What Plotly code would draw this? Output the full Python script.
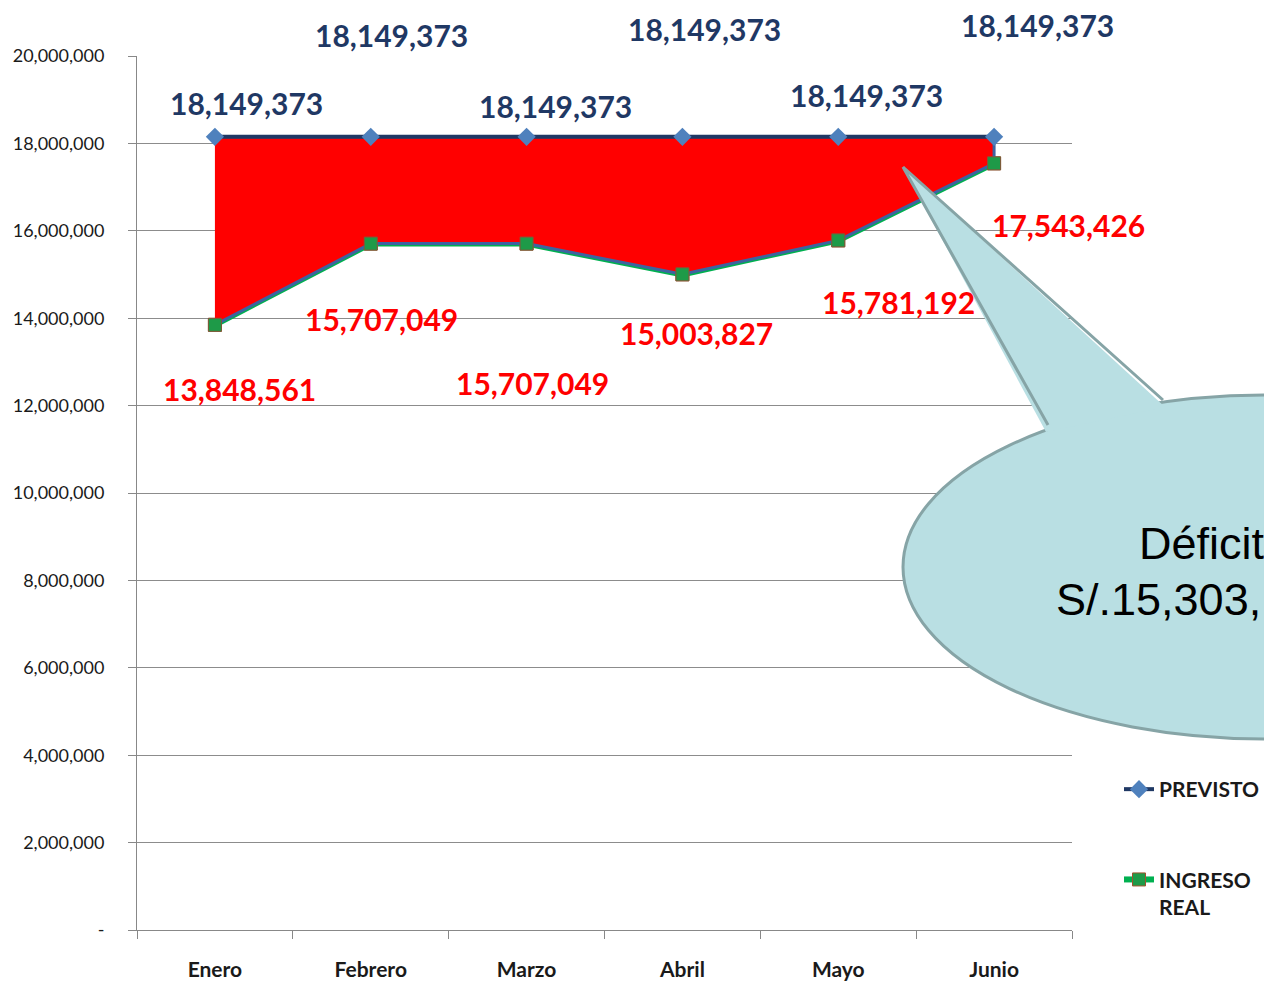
import plotly.graph_objects as go

# ---- data ----
months = ["Enero", "Febrero", "Marzo", "Abril", "Mayo", "Junio"]
previsto = [18149373, 18149373, 18149373, 18149373, 18149373, 18149373]
ingreso_real = [13848561, 15707049, 15707049, 15003827, 15781192, 17543426]
y_tick_vals = [0, 2000000, 4000000, 6000000, 8000000, 10000000, 12000000,
               14000000, 16000000, 18000000, 20000000]
y_tick_text = ["-", "2,000,000", "4,000,000", "6,000,000", "8,000,000",
               "10,000,000", "12,000,000", "14,000,000", "16,000,000",
               "18,000,000", "20,000,000"]
# label offsets in pixels (dx, dy-up) for each data label
prev_label_shift = [(32, 34), (21, 102), (29, 31), (22, 108), (28, 42), (43, 112)]
real_label_shift = [(25, -64), (11, -75), (6, -139), (14, -59), (60, -62), (74, -62)]

W, H = 1264, 983
L, R, T, B = 137, 192, 56, 53
PW, PH = W - L - R, H - T - B


def px(x):
    return (x - L) / PW


def py(y):
    return (H - B - y) / PH


FONT = "Lato"
NAVY = "#1F3864"
RED = "#FF0000"

fig = go.Figure()

# green line (underneath the red area)
fig.add_trace(go.Scatter(
    x=months, y=ingreso_real, mode="lines+markers", name="INGRESO<br>REAL",
    line=dict(color="#00B050", width=6),
    marker=dict(symbol="square", size=13, color="#1E9A48",
                line=dict(color="#A0522D", width=1)),
    legendgroup="b", legendrank=2))

# red deficit area
fig.add_trace(go.Scatter(
    x=months + months[::-1], y=previsto + ingreso_real[::-1],
    mode="lines", fill="toself", fillcolor=RED,
    line=dict(color="#3E63A0", width=3), showlegend=False, hoverinfo="skip"))

# ingreso markers on top
fig.add_trace(go.Scatter(
    x=months, y=ingreso_real, mode="markers", showlegend=False,
    marker=dict(symbol="square", size=13, color="#1E9A48",
                line=dict(color="#7F5A3A", width=1))))

# previsto line
fig.add_trace(go.Scatter(
    x=months, y=previsto, mode="lines+markers", name="PREVISTO",
    line=dict(color=NAVY, width=4),
    marker=dict(symbol="diamond", size=14, color="#4F81BD"),
    legendgroup="a", legendrank=1))

annotations = []
for m, v, (dx, dy) in zip(months, previsto, prev_label_shift):
    annotations.append(dict(
        x=m, y=v, xref="x", yref="y", text=f"{v:,}", showarrow=False,
        xshift=dx, yshift=dy,
        font=dict(family=FONT, size=30, color=NAVY, weight="bold")))
for m, v, (dx, dy) in zip(months, ingreso_real, real_label_shift):
    annotations.append(dict(
        x=m, y=v, xref="x", yref="y", text=f"{v:,}", showarrow=False,
        xshift=dx, yshift=dy,
        font=dict(family=FONT, size=30, color=RED, weight="bold")))

# callout text
annotations.append(dict(
    x=px(1137), y=py(543), xref="paper", yref="paper", xanchor="left",
    yanchor="middle", text="Déficit", showarrow=False,
    font=dict(family="Liberation Sans", size=45, color="#000000")))
annotations.append(dict(
    x=px(1054), y=py(599), xref="paper", yref="paper", xanchor="left",
    yanchor="middle", text="S/.15,303,", showarrow=False,
    font=dict(family="Liberation Sans", size=45, color="#000000")))

# callout shapes
CALL_FILL = "#B9DFE3"
CALL_LINE = "#86A4A6"
cx, cy, rx, ry = 1266, 567, 363, 172
shapes = [
    dict(type="circle", xref="paper", yref="paper",
         x0=px(cx - rx), x1=px(cx + rx), y0=py(cy + ry), y1=py(cy - ry),
         fillcolor=CALL_FILL, line=dict(color=CALL_LINE, width=3), layer="above"),
    dict(type="path", xref="paper", yref="paper", layer="above",
         path=(f"M {px(1046)},{py(432)} L {px(903)},{py(167)} "
               f"L {px(1165)},{py(407)} Z"),
         fillcolor=CALL_FILL, line=dict(width=0)),
    dict(type="path", xref="paper", yref="paper", layer="above",
         path=(f"M {px(1048)},{py(425)} L {px(903)},{py(167)} "
               f"L {px(1163)},{py(400)}"),
         fillcolor="rgba(0,0,0,0)", line=dict(color=CALL_LINE, width=3)),
]

fig.update_layout(
    width=W, height=H,
    margin=dict(l=L, r=R, t=T, b=B, pad=0, autoexpand=False),
    paper_bgcolor="white", plot_bgcolor="white",
    showlegend=True,
    legend=dict(x=px(1119), y=py(769), xanchor="left", yanchor="top",
                font=dict(family=FONT, size=21, color="#1a1a1a", weight="bold"),
                traceorder="grouped", tracegroupgap=60, itemwidth=30,
                valign="top", bgcolor="rgba(0,0,0,0)"),
    annotations=annotations, shapes=shapes,
    xaxis=dict(type="category", range=[-0.5, 5.5], showgrid=False,
               showline=True, linecolor="#888888", linewidth=1,
               ticks="outside", tickson="boundaries", ticklen=8,
               tickcolor="#888888", ticklabelstandoff=21, automargin=False,
               tickfont=dict(family=FONT, size=21, color="#1a1a1a", weight="bold")),
    yaxis=dict(range=[0, 20000000], tickvals=y_tick_vals, ticktext=y_tick_text,
               showgrid=True, gridcolor="#8C8C8C", gridwidth=1,
               showline=True, linecolor="#888888", linewidth=1,
               ticks="outside", ticklen=8, tickcolor="#888888",
               ticklabelstandoff=20, zeroline=False, automargin=False,
               tickfont=dict(family=FONT, size=18, color="#1a1a1a")),
)

fig.write_html("out.html",
               config={"displayModeBar": False, "responsive": False},
               post_script="document.body.style.margin='0';"
                           "document.body.style.overflow='hidden';")
